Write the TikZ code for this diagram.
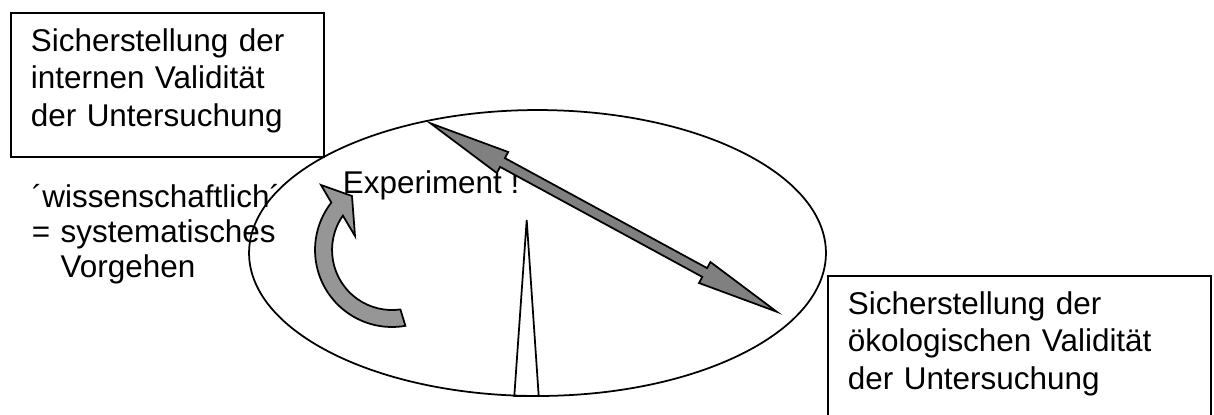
\documentclass[tikz,border=0pt]{standalone}
\usepackage{fontspec}
\setmainfont{Liberation Sans}
\usetikzlibrary{shapes.geometric}

\definecolor{arrowgray}{HTML}{808080}
\definecolor{turngray}{HTML}{969696}

\begin{document}
\begin{tikzpicture}[
x=0.02cm,
y=-0.02cm,
line width=1pt,
every node/.style={
font=\fontsize{17.9pt}{21.3pt}\selectfont
},
box/.style={
draw,
anchor=north west,
align=left,
inner xsep=0.4cm,
inner ysep=0.31cm
},
plaintext/.style={
anchor=base west,
inner sep=0pt
}
]

\useasboundingbox (0,0) rectangle (1214,414);
\clip (0,0) rectangle (1214,414);

\node[draw, ellipse, minimum width=11.54cm, minimum height=5.72cm] (versuch) at (537.5,253) {};

\node[box, text width=5.46cm, text depth=1.8cm] (intern) at (10,12)
{Sicherstellung der\\ internen Validität\\ der Untersuchung};

\node[box, text width=6.86cm, text depth=2.0cm] (oeko) at (827,275)
{Sicherstellung der\\ ökologischen Validität\\ der Untersuchung};

\node[plaintext, text width=7cm, align=left, font=\fontsize{17.9pt}{20.2pt}\selectfont] (wiss) at (31,207)
{´wissenschaftlich´\\ = systematisches\\ \phantom{= }Vorgehen};

\node[plaintext] (exp) at (342,193)
{Experiment !};

% Doppelpfeil
\draw[fill=arrowgray] (430.5,123.3) -- (508.2,152.0) -- (504.9,158.1) -- (707.1,268.1) -- (710.4,262.0)
-- (776.7,311.7) -- (699.0,283.0) -- (702.3,276.9) -- (500.1,166.9) -- (496.8,173.0) -- cycle;

% gebogener Pfeil
\draw[fill=turngray] (342.9,215.6) arc[start angle=215, end angle=82, radius=60] -- (405.4,325.8)
arc[start angle=80, end angle=218, radius=77] -- (321,185) -- (352,196) -- (355,236) -- cycle;

% Spitze
\draw (514.3,396) -- (526.7,220) -- (538.7,396) -- cycle;

\end{tikzpicture}
\end{document}
